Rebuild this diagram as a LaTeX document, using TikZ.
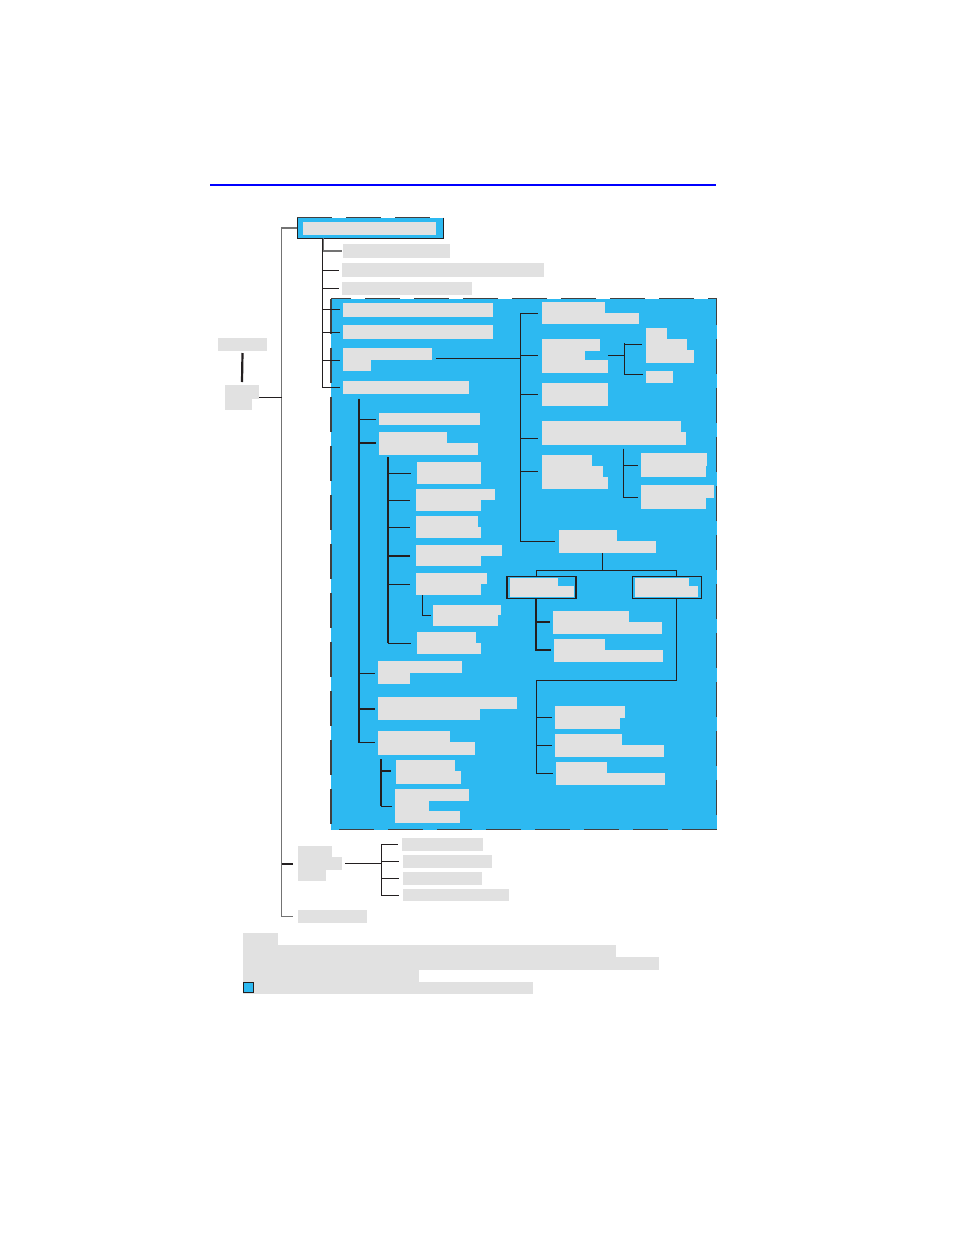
\documentclass[tikz,border=0pt]{standalone}
\definecolor{cyanfill}{HTML}{2DB9F1}
\definecolor{txt}{HTML}{E1E1E1}
\definecolor{ink}{HTML}{231F20}
\definecolor{rulecol}{HTML}{0000FF}
\tikzset{
  gbox/.style={fill=txt, inner sep=0pt, outer sep=0pt, anchor=north west},
  headbox/.style={fill=cyanfill, inner sep=0pt, outer sep=0pt, anchor=north west},
  framebox/.style={fill=cyanfill, draw=ink, line width=1.6pt, inner sep=0pt, outer sep=0pt, anchor=north west},
  keybox/.style={fill=cyanfill, draw=ink, line width=1.2pt, inner sep=0pt, outer sep=0pt, anchor=north west},
  frame/.style={draw=ink, line width=1.2pt},
  zone/.style={draw=black!75, line width=1.3pt, dash pattern=on 35pt off 14pt},
  conn/.style={draw=ink, line width=1pt},
  spine/.style={draw=ink, line width=1.6pt},
  trunk/.style={draw=black!55, line width=1.3pt},
  rule/.style={draw=rulecol, line width=2pt}
}
% one grey bar: name, x1, y1, x2, y2
\newcommand{\txtbar}[5]{\node[gbox, minimum width={#4-#2}, minimum height={#5-#3}] (#1) at (#2,#3) {};}
\begin{document}
\begin{tikzpicture}[x=1pt, y=-1pt]
\useasboundingbox (0,0) rectangle (954,1235);
\draw[rule] (210,185) -- (716,185);

% shaded zone
\fill[cyanfill] (331,298.7) rectangle (716.5,829.7);
\draw[zone] (331,298.7) rectangle (716.5,829.7);

% head
\node[headbox, minimum width=146.1, minimum height=20.7] (head) at (297.3,217.6) {};
\draw[zone] (head.north west) -- (head.north east);
\draw[frame] (head.north east) -- (head.south east) -- (head.south west) -- (head.north west);
\txtbar{hd}{303}{222}{436}{235.1}

% left side
\txtbar{ltop}{218}{338}{267}{351}
\txtbar{lba}{225}{385}{259}{398.9}
\txtbar{lbb}{225}{398.9}{252}{410}

% first column
\txtbar{a1}{343}{244}{450}{258}
\txtbar{a2}{342}{263}{544}{277}
\txtbar{a3}{342}{282}{472}{295}
\txtbar{a4}{343}{303}{493}{316.9}
\txtbar{a5}{343}{325}{493}{339}
\txtbar{a6a}{343}{348}{432}{360}
\txtbar{a6b}{343}{360}{371}{370.8}
\txtbar{a7}{343}{381}{469}{394.1}

% right column
\txtbar{c1a}{542}{301.9}{605}{313}
\txtbar{c1b}{542}{313}{639}{324.4}
\txtbar{c2a}{542}{339}{600}{351}
\txtbar{c2b}{542}{351}{585}{360.4}
\txtbar{c2c}{542}{360.4}{608}{372.7}
\txtbar{c3}{542}{383}{608}{405.8}
\txtbar{c4a}{542}{421}{681}{432}
\txtbar{c4b}{542}{432}{686}{444.6}
\txtbar{c5a}{542}{455}{592}{465.9}
\txtbar{c5b}{542}{465.9}{603}{477}
\txtbar{c5c}{542}{477}{608}{489}
\txtbar{d1a}{646}{328}{667}{339}
\txtbar{d1b}{646}{339}{687}{350}
\txtbar{d1c}{646}{350}{694}{362.7}
\txtbar{d2}{646}{371}{673}{382.8}
\txtbar{e1a}{641}{453}{707}{465.9}
\txtbar{e1b}{641}{465.9}{706}{477}
\txtbar{e2a}{641}{485}{714}{497.7}
\txtbar{e2b}{641}{497.7}{706}{508.6}
\txtbar{fa}{559}{530}{617}{541}
\txtbar{fb}{559}{541}{656}{553}

\node[framebox, minimum width=69, minimum height=22] (boxL) at (507.2,576.4) {};
\node[framebox, minimum width=69.3, minimum height=22] (boxR) at (632.3,576.4) {};
\txtbar{pa}{510}{577.7}{558}{586.1}
\txtbar{pb}{510}{586.1}{573.8}{597.2}
\txtbar{qa}{635}{577.7}{689}{586.1}
\txtbar{qb}{635}{586.1}{698}{597.2}

\txtbar{g1a}{553}{611}{629}{622}
\txtbar{g1b}{553}{622}{662}{634}
\txtbar{g2a}{554}{639}{605}{650}
\txtbar{g2b}{554}{650}{663}{662}
\txtbar{h1a}{555}{706}{625}{717.7}
\txtbar{h1b}{555}{717.7}{620}{729}
\txtbar{h2a}{555}{734}{622}{745}
\txtbar{h2b}{555}{745}{664}{756.7}
\txtbar{h3a}{556}{762}{607}{773}
\txtbar{h3b}{556}{773}{665}{785}

% inner left column
\txtbar{i1}{379}{413}{480}{425}
\txtbar{i2a}{379}{432}{447}{442.9}
\txtbar{i2b}{379}{442.9}{478}{455}
\txtbar{j1}{417}{462}{481}{484}
\txtbar{j2a}{416}{489}{495}{500}
\txtbar{j2b}{416}{500}{481}{511}
\txtbar{j3a}{416}{516}{478}{527}
\txtbar{j3b}{416}{527}{481}{538}
\txtbar{j4a}{416}{545}{502}{556}
\txtbar{j4b}{416}{556}{481}{566}
\txtbar{j5a}{416}{573}{487}{584}
\txtbar{j5b}{416}{584}{481}{595}
\txtbar{ka}{433}{605}{501}{615}
\txtbar{kb}{433}{615}{498}{626}
\txtbar{j6a}{417}{632}{476}{643}
\txtbar{j6b}{417}{643}{481}{654}
\txtbar{i3a}{378}{661}{462}{673}
\txtbar{i3b}{378}{673}{410}{684}
\txtbar{i4a}{378}{697}{517}{708.7}
\txtbar{i4b}{378}{708.7}{480}{720}
\txtbar{i5a}{378}{731}{450}{742}
\txtbar{i5b}{378}{742}{475}{755}
\txtbar{l1a}{396}{760}{455}{771}
\txtbar{l1b}{396}{771}{461}{784}
\txtbar{l2a}{395}{789}{469}{801}
\txtbar{l2b}{395}{801}{429}{811}
\txtbar{l2c}{395}{811}{460}{823}

% below the zone
\txtbar{na}{298}{846}{332}{857}
\txtbar{nb}{298}{857}{342}{870}
\txtbar{nc}{298}{870}{326}{881}
\txtbar{m1}{402}{838}{483}{851}
\txtbar{m2}{403}{855}{492}{868}
\txtbar{m3}{403}{872}{482}{885}
\txtbar{m4}{403}{889}{509}{901}
\txtbar{bot}{298}{910}{367}{923}

% legend
\txtbar{leg1}{243}{933}{278}{945}
\txtbar{leg2}{243}{945}{616}{957}
\txtbar{leg3}{243}{957}{659}{970}
\txtbar{leg4}{243}{970}{419}{982}
\txtbar{leg5}{243}{982}{533}{994}
\node[keybox, minimum size=10] (key) at (243.6,982.3) {};

% main trunk
\coordinate (sA) at (281.5,228.2);
\draw[trunk] (head.west) -| (bot.west -| sA) -- ([xshift=-5pt]bot.west);
\draw[trunk, draw=ink, line width=2pt] (nb.west -| sA) -- ([xshift=-5pt]nb.west);
\coordinate (lbr) at ([yshift=1.5pt]lba.south east);
\draw[conn] (lbr) -- (lbr -| sA);
\draw[conn, line width=2.2pt] ([yshift=-2pt]ltop.south) -- ([yshift=3pt]lba.north);

% first column
\coordinate (sB) at (322.6,238.3);
\draw[trunk, line width=2pt] (sB) |- ([xshift=-1pt]a1.west);
\foreach \t in {a2.west, a3.west, a4.west, a5.west, a6a.south west, a7.west}
  \draw[conn] (sB) |- ([xshift=-3.5pt]\t);

% right column
\coordinate (sC) at (520.4,313.3);
\coordinate (a6r) at ([xshift=4pt,yshift=2pt]a6a.south east);
\draw[conn] (a6r) -- (a6r -| sC);
\foreach \t in {c1a.south west, c2b.west, c3.west, c4b.west, c5b.west, fa.south west}
  \draw[conn] (sC) |- ([xshift=-4pt]\t);
\coordinate (dT) at (624.3,343.3);
\draw[conn] (c2c.east |- c2b.west) -- (dT |- c2b.west);
\draw[conn] (dT) |- ([xshift=-4pt]d1b.west);
\draw[conn] (dT) |- ([xshift=-3pt,yshift=2.5pt]d2.west);
\coordinate (eT) at (623.5,448.7);
\foreach \t in {e1a.south west, e2a.south west}
  \draw[conn] (eT) |- ([xshift=-3.5pt]\t);

% split under f
\coordinate (fj) at (602.2,570.4);
\coordinate (gT) at (536,598.4);
\coordinate (hT) at (676.3,598.4);
\draw[conn] (fj |- fb.south) -- (fj);
\draw[conn] (fj) -| (gT |- boxL.north);
\draw[conn] (fj) -| (hT |- boxR.north);
\foreach \t in {g1a.south west, g2a.south west}
  \draw[conn, line width=1.5pt] (gT) |- ([xshift=-3pt]\t);
\coordinate (hJ) at (536.3,680.7);
\draw[conn] (hT) |- (hJ);
\foreach \t in {h1a.south west, h2a.south west, h3a.south west}
  \draw[conn] (hJ) |- ([xshift=-3pt]\t);

% inner left column
\coordinate (iT) at (358.9,398.9);
\draw[spine] (iT) -- (iT |- i5a.south);
\foreach \t in {i1.west, i3a.south west, i5a.south west}
  \draw[conn] (iT) |- ([xshift=-3pt]\t);
\foreach \t in {i2a.south west, i4a.south west}
  \draw[conn, line width=2pt] (iT) |- ([xshift=-3pt]\t);
\coordinate (jT) at (388,457.1);
\draw[spine, line width=2pt] (jT) -- (jT |- j6a.south);
\foreach \t in {j1.west, j2a.south west, j3a.south west, j5a.south west, j6a.south west}
  \draw[conn] (jT) |- ([xshift=-6.5pt]\t);
\draw[conn, line width=2pt] (jT) |- ([xshift=-6.5pt]j4a.south west);
\coordinate (kT) at (422.4,595);
\draw[conn] (kT) |- ([xshift=-2pt]ka.south west);
\coordinate (lT) at (381.2,759.4);
\draw[spine] (lT) -- (lT |- l2b.west);
\draw[conn, line width=2pt] (lT) |- ([xshift=-5pt]l1a.south west);
\draw[conn] (lT) |- ([xshift=-3pt]l2b.west);

% below the zone
\coordinate (mT) at (381,844.3);
\draw[conn] ([xshift=3pt]nb.east) -- (mT |- nb.east);
\foreach \t in {m1.west, m2.west, m3.west, m4.west}
  \draw[conn] (mT) |- ([xshift=-4.5pt]\t);
\end{tikzpicture}
\end{document}
